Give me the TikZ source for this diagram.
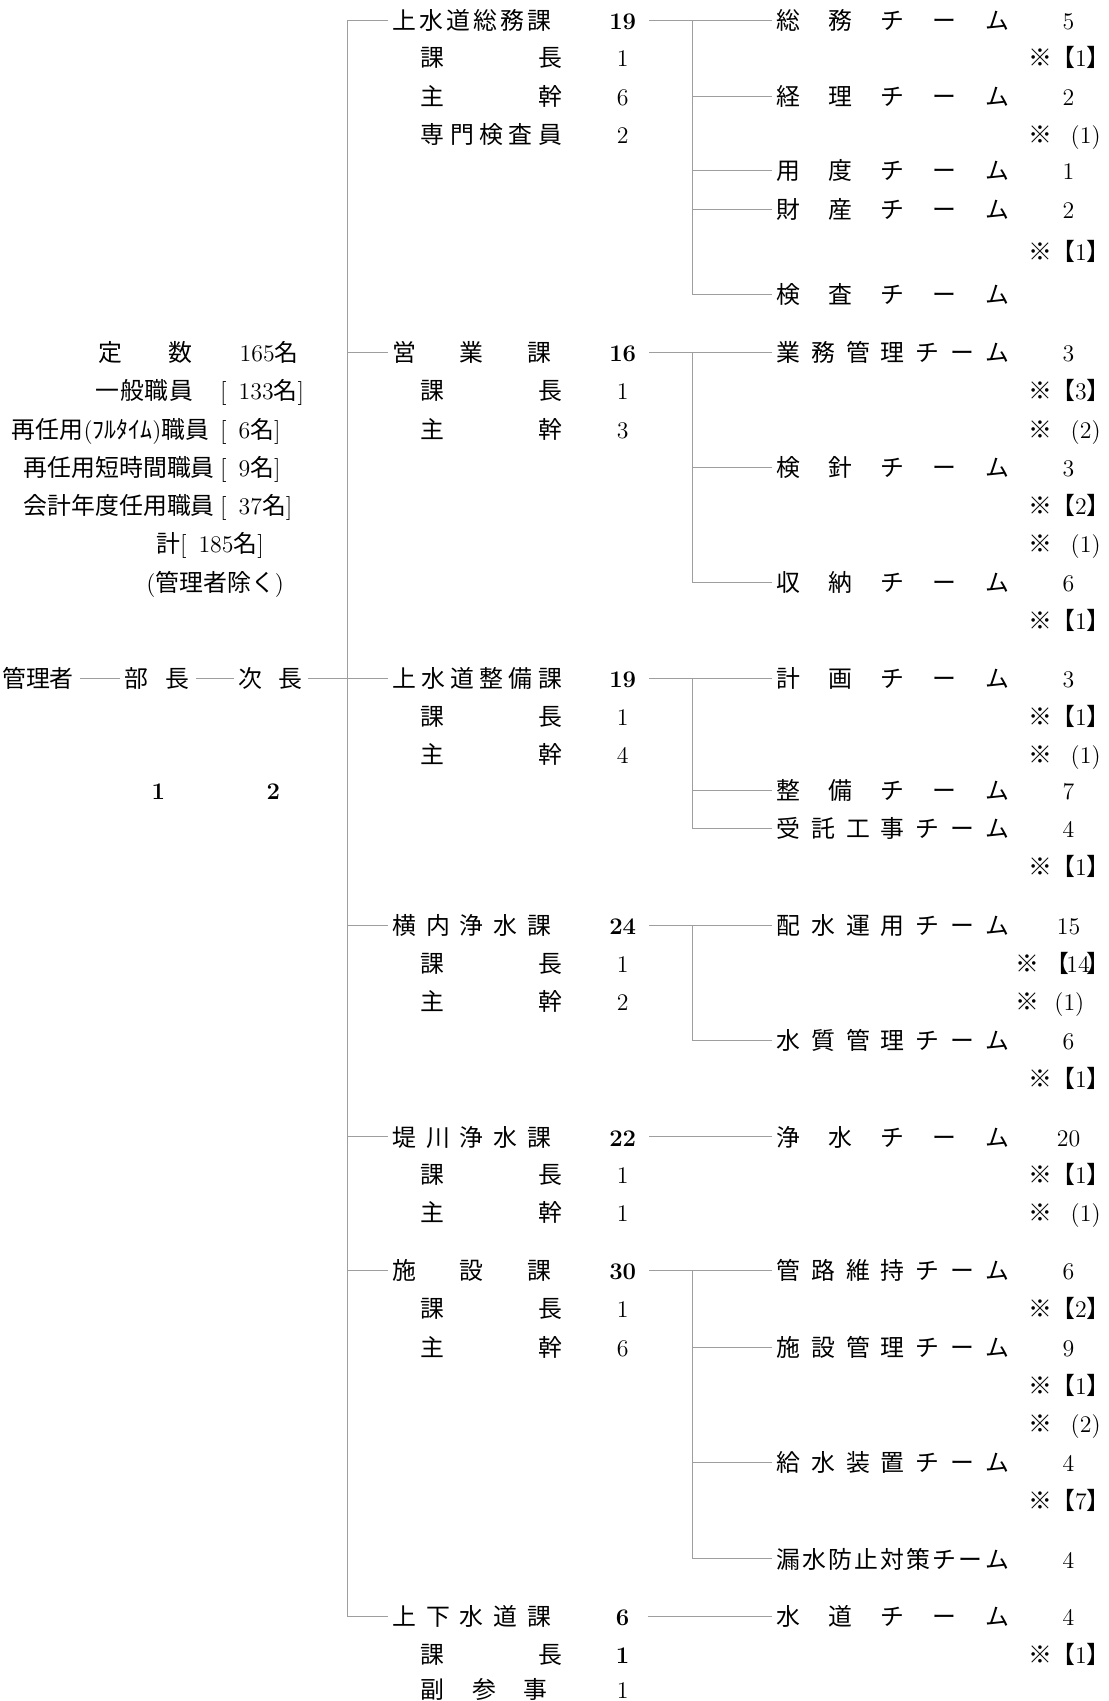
\documentclass[tikz,border=0pt]{standalone}
\usepackage{fontspec}
\newfontfamily\jp{Noto Sans CJK JP}
\newcommand\J[1]{{\jp #1}}
\newcommand\SPR[2]{\makebox[#1][s]{\jp #2}}
% department: name, y, width, label, total
\newcommand\DP[5]{\node[anchor=west] (#1) at (362,#2) {\SPR{#3}{#4}};\node[numbox] (#1n) at (574,#2) {\textbf{#5}};}
% sub row: name, y, width, label, number
\newcommand\SB[5]{\node[anchor=west] (#1) at (388,#2) {\SPR{#3}{#4}};\node[numbox] (#1n) at (574,#2) {#5};}
% team: name, y, label, number
\newcommand\TM[4]{\node[anchor=west] (#1) at (716,#2) {\SPR{107pt}{#3}};\node (#1n) at (985,#2) {#4};}
% kome + lenticular bracket
\newcommand\KB[3]{\node (#1k) at (959,#2) {\J{※}};\node[anchor=west] (#1v) at (969,#2) {\J{【}#3\J{】}\kern-4pt};}
% kome + parenthesis
\newcommand\KP[3]{\node (#1k) at (959,#2) {\J{※}};\node[anchor=west] (#1v) at (987,#2) {(#3)};}
\begin{document}
\begin{tikzpicture}[x=0.5pt,y=-0.5pt,
  every node/.style={inner sep=0pt, outer sep=0pt, text height=9.7pt, text depth=1.3pt, font=\fontsize{11}{13}\selectfont},
  numbox/.style={minimum width=11pt},
  conn/.style={draw=black!38, line width=0.45pt},
]
\useasboundingbox (0,0) rectangle (1022,1568);

% ---------- left block ----------
\node[anchor=west] (c1) at (91,325) {\SPR{43pt}{定\hfill 数}};
\node[anchor=west] (c1n) at (221,325) {165\J{名}};
\node[anchor=west] (c2) at (88,360) {\SPR{45pt}{一\hfill 般\hfill 職\hfill 員}};
\node[anchor=west] (c2n) at (203,360) {[\enspace 133\J{名}]};
\node[anchor=west] (c3) at (11,396) {\J{再任用}(\J{ﾌﾙﾀｲﾑ})\J{職員}};
\node[anchor=west] (c3n) at (203,396) {[\enspace 6\J{名}]};
\node[anchor=west] (c4) at (22,431) {\J{再任用短時間職員}};
\node[anchor=west] (c4n) at (203,431) {[\enspace 9\J{名}]};
\node[anchor=west] (c5) at (22,466) {\J{会計年度任用職員}};
\node[anchor=west] (c5n) at (203,466) {[\enspace 37\J{名}]};
\node[anchor=west] (c6) at (144,501) {\J{計}};
\node[anchor=west] (c6n) at (166,501) {[\enspace 185\J{名}]};
\node[anchor=west] (c7) at (135,537) {(\J{管理者除く})};

\node[anchor=west] (kan) at (2,625) {\J{管理者}};
\node[anchor=west] (bu) at (115,625) {\SPR{30pt}{部\hfill 長}};
\node[anchor=west] (ji) at (220,625) {\SPR{29.5pt}{次\hfill 長}};
\node (bun) at (146,729) {\textbf{1}};
\node (jin) at (252,729) {\textbf{2}};

% ---------- departments ----------
\DP{d1}{19}{73pt}{上\hfill 水\hfill 道\hfill 総\hfill 務\hfill 課}{19}
\SB{d1a}{53}{65pt}{課\hfill 長}{1}
\SB{d1b}{89}{65pt}{主\hfill 幹}{6}
\SB{d1c}{124}{65pt}{専\hfill 門\hfill 検\hfill 査\hfill 員}{2}

\DP{d2}{325}{73pt}{営\hfill 業\hfill 課}{16}
\SB{d2a}{360}{65pt}{課\hfill 長}{1}
\SB{d2b}{396}{65pt}{主\hfill 幹}{3}

\DP{d3}{625}{78pt}{上\hfill 水\hfill 道\hfill 整\hfill 備\hfill 課}{19}
\SB{d3a}{660}{65pt}{課\hfill 長}{1}
\SB{d3b}{695}{65pt}{主\hfill 幹}{4}

\DP{d4}{853}{73pt}{横\hfill 内\hfill 浄\hfill 水\hfill 課}{24}
\SB{d4a}{888}{65pt}{課\hfill 長}{1}
\SB{d4b}{923}{65pt}{主\hfill 幹}{2}

\DP{d5}{1048}{73pt}{堤\hfill 川\hfill 浄\hfill 水\hfill 課}{22}
\SB{d5a}{1083}{65pt}{課\hfill 長}{1}
\SB{d5b}{1118}{65pt}{主\hfill 幹}{1}

\DP{d6}{1171}{73pt}{施\hfill 設\hfill 課}{30}
\SB{d6a}{1206}{65pt}{課\hfill 長}{1}
\SB{d6b}{1242}{65pt}{主\hfill 幹}{6}

\DP{d7}{1490}{73pt}{上\hfill 下\hfill 水\hfill 道\hfill 課}{6}
\SB{d7a}{1525}{65pt}{課\hfill 長}{\textbf{1}}
\SB{d7b}{1557}{58.5pt}{副\hfill 参\hfill 事}{1}

% ---------- teams ----------
\TM{t11}{19}{総\hfill 務\hfill チ\hfill ー\hfill ム}{5}
\KB{k11}{53}{1}
\TM{t12}{89}{経\hfill 理\hfill チ\hfill ー\hfill ム}{2}
\KP{k12}{124}{1}
\TM{t13}{157}{用\hfill 度\hfill チ\hfill ー\hfill ム}{1}
\TM{t14}{193}{財\hfill 産\hfill チ\hfill ー\hfill ム}{2}
\KB{k13}{232}{1}
\node[anchor=west] (t15) at (716,271) {\SPR{107pt}{検\hfill 査\hfill チ\hfill ー\hfill ム}};

\TM{t21}{325}{業\hfill 務\hfill 管\hfill 理\hfill チ\hfill ー\hfill ム}{3}
\KB{k21}{360}{3}
\KP{k22}{396}{2}
\TM{t22}{431}{検\hfill 針\hfill チ\hfill ー\hfill ム}{3}
\KB{k23}{466}{2}
\KP{k24}{501}{1}
\TM{t23}{537}{収\hfill 納\hfill チ\hfill ー\hfill ム}{6}
\KB{k25}{572}{1}

\TM{t31}{625}{計\hfill 画\hfill チ\hfill ー\hfill ム}{3}
\KB{k31}{660}{1}
\KP{k32}{695}{1}
\TM{t32}{729}{整\hfill 備\hfill チ\hfill ー\hfill ム}{7}
\TM{t33}{764}{受\hfill 託\hfill 工\hfill 事\hfill チ\hfill ー\hfill ム}{4}
\KB{k33}{799}{1}

\TM{t41}{853}{配\hfill 水\hfill 運\hfill 用\hfill チ\hfill ー\hfill ム}{15}
\node (k41k) at (947,888) {\J{※}};
\node[anchor=west] (k41v) at (964,888) {\J{【}\kern-1.5pt 14\kern-1.5pt\J{】}\kern-5pt};
\node (k42k) at (947,923) {\J{※}};
\node[anchor=west] (k42v) at (972,923) {(1)};
\TM{t42}{959}{水\hfill 質\hfill 管\hfill 理\hfill チ\hfill ー\hfill ム}{6}
\KB{k43}{994}{1}

\TM{t51}{1048}{浄\hfill 水\hfill チ\hfill ー\hfill ム}{20}
\KB{k51}{1083}{1}
\KP{k52}{1118}{1}

\TM{t61}{1171}{管\hfill 路\hfill 維\hfill 持\hfill チ\hfill ー\hfill ム}{6}
\KB{k61}{1206}{2}
\TM{t62}{1242}{施\hfill 設\hfill 管\hfill 理\hfill チ\hfill ー\hfill ム}{9}
\KB{k62}{1277}{1}
\KP{k63}{1312}{2}
\TM{t63}{1348}{給\hfill 水\hfill 装\hfill 置\hfill チ\hfill ー\hfill ム}{4}
\KB{k64}{1383}{7}
\TM{t64}{1437}{漏\hfill 水\hfill 防\hfill 止\hfill 対\hfill 策\hfill チ\hfill ー\hfill ム}{4}

\TM{t71}{1490}{水\hfill 道\hfill チ\hfill ー\hfill ム}{4}
\KB{k71}{1525}{1}

% ---------- connectors ----------
\draw[conn, shorten <=3pt, shorten >=2pt] (kan.east) -- (bu.west);
\draw[conn, shorten <=3pt, shorten >=2pt] (bu.east) -- (ji.west);
\draw[conn, shorten <=2.5pt, shorten >=2pt] (ji.east) -- (d3.west);

\coordinate (tr1) at (320,19);
\coordinate (tr7) at (320,1490);
\draw[conn, shorten <=2pt, shorten >=2pt] (d1.west) -- (tr1) -- (tr7) -- (d7.west);
\foreach \d in {d2,d4,d5,d6}
  \draw[conn, shorten >=2pt] (tr1 |- \d.west) -- (\d.west);

\coordinate (b1) at (638,19);
\coordinate (b2) at (638,325);
\coordinate (b3) at (638,625);
\coordinate (b4) at (638,853);
\coordinate (b6) at (638,1171);
\draw[conn, shorten <=6pt] (d1n.east) -- (b1);
\draw[conn, shorten <=6pt] (d2n.east) -- (b2);
\draw[conn, shorten <=6pt] (d3n.east) -- (b3);
\draw[conn, shorten <=6pt] (d4n.east) -- (b4);
\draw[conn, shorten <=6pt] (d6n.east) -- (b6);
\foreach \t in {t11,t12,t13,t14,t15} \draw[conn, shorten >=2pt] (b1) |- (\t.west);
\foreach \t in {t21,t22,t23} \draw[conn, shorten >=2pt] (b2) |- (\t.west);
\foreach \t in {t31,t32,t33} \draw[conn, shorten >=2pt] (b3) |- (\t.west);
\foreach \t in {t41,t42} \draw[conn, shorten >=2pt] (b4) |- (\t.west);
\foreach \t in {t61,t62,t63,t64} \draw[conn, shorten >=2pt] (b6) |- (\t.west);
\draw[conn, shorten <=6pt, shorten >=2pt] (d5n.east) -- (t51.west);
\draw[conn, shorten <=6pt, shorten >=2pt] (d7n.east) -- (t71.west);
\end{tikzpicture}
\end{document}
